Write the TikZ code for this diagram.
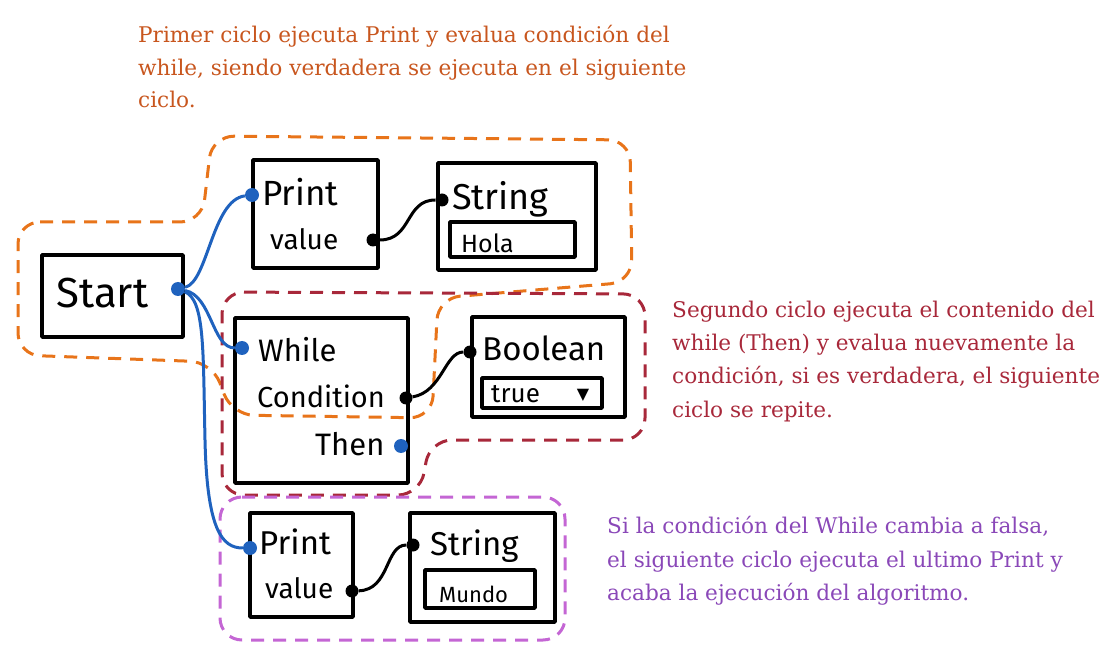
\documentclass[tikz,border=0pt]{standalone}
\usepackage{fontspec}
\newfontfamily\notefont{DejaVu Serif}
\newfontfamily\handfont{Fira Sans}
\newfontfamily\symfont{DejaVu Sans}
\definecolor{orangeline}{HTML}{E8741A}
\definecolor{orangetext}{HTML}{C8561E}
\definecolor{redline}{HTML}{A8283A}
\definecolor{redtext}{HTML}{A8283A}
\definecolor{purpleline}{HTML}{C466D4}
\definecolor{purpletext}{HTML}{8A48B8}
\definecolor{wireblue}{HTML}{1F62BE}
\tikzset{
  box/.style={draw, line width=3.4pt, rectangle, inner sep=0pt, line join=round},
  hand/.style={font=\handfont\fontsize{#1}{#1}\selectfont, inner sep=0pt, anchor=base west},
  bluedot/.style={circle, fill=wireblue, inner sep=0pt, minimum size=14pt},
  blackdot/.style={circle, fill=black, inner sep=0pt, minimum size=13pt},
  wire/.style={line width=3pt, draw=wireblue},
  link/.style={line width=3pt, draw=black},
  zone/.style={dash pattern=on 13pt off 9pt, line width=3pt, rounded corners=22pt},
  note/.style={font=\notefont\fontsize{21.6}{24}\selectfont, anchor=base west, inner sep=0pt}
}
\begin{document}
\begin{tikzpicture}[x=1pt,y=-1pt]
\useasboundingbox (0,0) rectangle (1114,668);
% zones
\draw[zone, orangeline] (18,222) -- (202,222) -- (212,136) -- (630,140) -- (632,282) -- (438,298) -- (432,418) -- (232,415) -- (212,362) -- (18,355) -- cycle;
\draw[zone, redline] (222,292) -- (645,294) -- (645,440) -- (430,440) -- (420,495) -- (222,495) -- cycle;
\draw[zone, purpleline] (220,497) -- (565,497) -- (565,640) -- (220,640) -- cycle;
% boxes
\node[box, minimum width=141pt, minimum height=82pt] (startbox) at (112.5,296) {};
\node[box, minimum width=125pt, minimum height=108pt] (print1) at (315.5,214) {};
\node[box, minimum width=158pt, minimum height=107pt] (string1) at (517,216.5) {};
\node[box, minimum width=125pt, minimum height=35pt] (hola) at (512.5,239.5) {};
\node[box, minimum width=173pt, minimum height=165pt] (while) at (321.5,400.5) {};
\node[box, minimum width=153pt, minimum height=100pt] (boolean) at (548.5,367) {};
\node[box, minimum width=120pt, minimum height=30pt] (truebox) at (542,393) {};
\node[box, minimum width=103pt, minimum height=104pt] (print2) at (301.5,565) {};
\node[box, minimum width=145pt, minimum height=109pt] (string2) at (482.5,567.5) {};
\node[box, minimum width=110pt, minimum height=38pt] (mundo) at (480,589) {};
% texts in boxes
\node[hand=42] (tstart) at (56,308) {Start};
\node[hand=35] (tprint1) at (262,206) {Print};
\node[hand=36] (tstring1) at (452,210) {String};
\node[hand=28] (tvalue1) at (270,250) {value};
\node[hand=25] (thola) at (461,253) {Hola};
\node[hand=31] (twhile) at (258,361) {While};
\node[hand=29] (tcond) at (257,407) {Condition};
\node[hand=31] (tthen) at (315,455) {Then};
\node[hand=33] (tbool) at (482,360) {Boolean};
\node[hand=26] (ttrue) at (491,402) {true};
\node[font=\symfont\fontsize{16}{16}\selectfont, inner sep=0pt] (tri) at (583,395) {▼};
\node[hand=33] (tprint2) at (259,554) {Print};
\node[hand=28] (tvalue2) at (265,598) {value};
\node[hand=33] (tstring2) at (430,555) {String};
\node[hand=22] (tmundo) at (439,602) {Mundo};
% dots
\node[bluedot] (sdot) at (178,289) {};
\node[bluedot] (p1in) at (252,195) {};
\node[bluedot] (win) at (242,348) {};
\node[bluedot] (wthen) at (401,446) {};
\node[bluedot] (p2in) at (250,548) {};
\node[blackdot] (p1out) at (373,240) {};
\node[blackdot] (s1in) at (442,200) {};
\node[blackdot] (wcond) at (406,398) {};
\node[blackdot] (bin) at (470,352) {};
\node[blackdot] (p2out) at (352,591) {};
\node[blackdot] (s2in) at (413,545) {};
% wires
\draw[wire] (sdot) .. controls (208,282) and (212,200) .. (p1in);
\draw[wire] (sdot) .. controls (212,296) and (212,348) .. (win);
\draw[wire] (sdot) .. controls (205,300) and (203,350) .. (205,440) .. controls (207,530) and (222,548) .. (p2in);
\draw[link] (p1out) .. controls (412,240) and (405,200) .. (s1in);
\draw[link] (wcond) .. controls (442,392) and (445,352) .. (bin);
\draw[link] (p2out) .. controls (390,590) and (385,545) .. (s2in);
% notes
\node[note, text=orangetext] (n1a) at (138,43) {Primer ciclo ejecuta Print y evalua condición del};
\node[note, text=orangetext] (n1b) at (138,76) {while, siendo verdadera se ejecuta en el siguiente};
\node[note, text=orangetext] (n1c) at (138,108) {ciclo.};
\node[note, text=redtext] (n2a) at (672,318) {Segundo ciclo ejecuta el contenido del};
\node[note, text=redtext] (n2b) at (672,351) {while (Then) y evalua nuevamente la};
\node[note, text=redtext] (n2c) at (672,384) {condición, si es verdadera, el siguiente};
\node[note, text=redtext] (n2d) at (672,417) {ciclo se repite.};
\node[note, text=purpletext] (n3a) at (607,533) {Si la condición del While cambia a falsa,};
\node[note, text=purpletext] (n3b) at (607,567) {el siguiente ciclo ejecuta el ultimo Print y};
\node[note, text=purpletext] (n3c) at (607,600) {acaba la ejecución del algoritmo.};
\end{tikzpicture}
\end{document}
